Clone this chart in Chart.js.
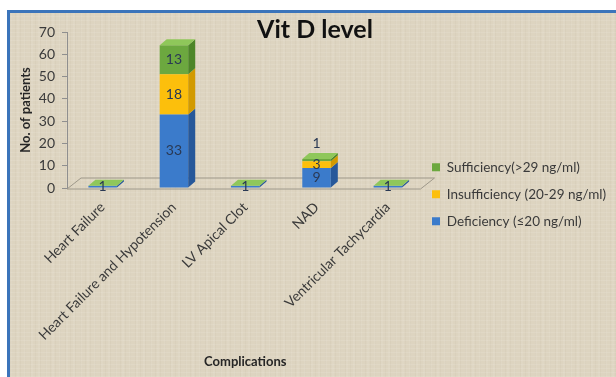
<!DOCTYPE html>
<html>
<head>
<meta charset="utf-8">
<script src="https://cdn.jsdelivr.net/npm/chart.js@4/dist/chart.umd.min.js"></script>
<style>
  html, body { margin: 0; padding: 0; background: #ffffff; }
  #wrap { position: relative; width: 616px; height: 377px; overflow: hidden; }
  #frame {
    position: absolute; left: 7px; top: 10px; right: 0; bottom: 0;
    border-top: 3px solid #3b74ba; border-left: 3px solid #3b74ba;
    background-color: #ddd4c0;
    background-image:
      repeating-linear-gradient(0deg, rgba(255,255,255,0.09) 0 1px, transparent 1px 4px),
      repeating-linear-gradient(90deg, rgba(120,100,70,0.04) 0 1px, transparent 1px 5px),
      repeating-linear-gradient(90deg, rgba(255,255,255,0.06) 0 2px, transparent 2px 7px);
  }
  canvas { position: absolute; left: 0; top: 0; }
</style>
</head>
<body>
<div id="wrap">
  <div id="frame"></div>
  <canvas id="c" width="616" height="377"></canvas>
</div>
<script>
// Complications by vitamin D status
const categories = ['Heart Failure', 'Heart Failure and Hypotension', 'LV Apical Clot', 'NAD', 'Ventricular Tachycardia'];
const deficiency = [1, 33, 1, 9, 1];
const insufficiency = [0, 18, 0, 3, 0];
const sufficiency = [0, 13, 0, 1, 0];
const seriesNames = ['Deficiency (\u226420 ng/ml)', 'Insufficiency (20-29 ng/ml)', 'Sufficiency(>29 ng/ml)'];
const yMin = 0, yMax = 70, yStep = 10;

// face colours: front, side, top
const frontColors = ['#3b7bcb', '#fcbf0c', '#6ca83f'];
const sideColors = ['#27589a', '#d29a00', '#4d8629'];
const topColors = ['#5d97de', '#ffd552', '#8fc75a'];

const BAR_DX = 7, BAR_DY = 6;       // bar depth
const FLOOR_DX = 14, FLOOR_DY = 11; // floor depth
const FONT = 'Lato, "Open Sans", "DejaVu Sans", sans-serif';

const depth3d = {
  id: 'depth3d',
  beforeDatasetsDraw(chart) {
    const ctx = chart.ctx, xs = chart.scales.x, ys = chart.scales.y;
    const y0 = ys.getPixelForValue(0) + 1;
    ctx.save();
    ctx.strokeStyle = '#9e988a';
    ctx.lineWidth = 1;
    ctx.beginPath();
    ctx.moveTo(xs.left, y0);
    ctx.lineTo(xs.right - 3, y0);
    ctx.lineTo(xs.right - 3 + FLOOR_DX, y0 - FLOOR_DY);
    ctx.lineTo(xs.left + FLOOR_DX, y0 - FLOOR_DY);
    ctx.closePath();
    ctx.stroke();
    ctx.restore();
  },
  afterDatasetsDraw(chart) {
    const ctx = chart.ctx;
    const n = chart.data.datasets.length;
    ctx.save();
    // side faces
    for (let d = 0; d < n; d++) {
      const meta = chart.getDatasetMeta(d);
      meta.data.forEach(el => {
        const r = el.x + el.width / 2;
        const top = Math.min(el.y, el.base), bot = Math.max(el.y, el.base);
        if (bot - top < 0.01) return;
        ctx.fillStyle = sideColors[d];
        ctx.beginPath();
        ctx.moveTo(r, bot);
        ctx.lineTo(r + BAR_DX, bot - BAR_DY);
        ctx.lineTo(r + BAR_DX, top - BAR_DY);
        ctx.lineTo(r, top);
        ctx.closePath();
        ctx.fill();
      });
    }
    // top face of each stack
    const last = chart.getDatasetMeta(n - 1);
    last.data.forEach(el => {
      const l = el.x - el.width / 2, r = el.x + el.width / 2;
      const top = Math.min(el.y, el.base);
      ctx.fillStyle = topColors[n - 1];
      ctx.beginPath();
      ctx.moveTo(l, top);
      ctx.lineTo(l + BAR_DX, top - BAR_DY);
      ctx.lineTo(r + BAR_DX, top - BAR_DY);
      ctx.lineTo(r, top);
      ctx.closePath();
      ctx.fill();
    });
    // value labels
    ctx.font = '14px ' + FONT;
    ctx.fillStyle = '#2a3954';
    ctx.textAlign = 'center';
    ctx.textBaseline = 'middle';
    for (let d = 0; d < n; d++) {
      const meta = chart.getDatasetMeta(d);
      const vals = chart.data.datasets[d].data;
      meta.data.forEach((el, i) => {
        const v = vals[i];
        if (!v) return;
        const total = chart.data.datasets.reduce((s, ds) => s + (ds.data[i] || 0), 0);
        const h = Math.abs(el.base - el.y);
        let cy = (el.y + el.base) / 2;
        if (h < 4 && total > v) cy = Math.min(el.y, el.base) - BAR_DY - 10;
        ctx.fillText(String(v), el.x, cy);
      });
    }
    ctx.restore();
  },
  beforeDraw(chart) {
    // title centred over the whole frame
    const tb = chart.titleBlock;
    tb.left = 14; tb.right = 616; tb.width = 602;
    // legend sits beside the floor, lower right
    const lg = chart.legend, ca = chart.chartArea;
    lg.left = ca.right - 5;
    lg.right = lg.left + 200;
    lg.top = ca.top + 115;
    lg.bottom = lg.top + 120;
    lg.width = 200; lg.height = 120;
  }
};

const datasets = [deficiency, insufficiency, sufficiency].map((data, i) => ({
  label: seriesNames[i],
  data: data,
  backgroundColor: frontColors[i],
  borderWidth: 0,
  barPercentage: 0.4,
  categoryPercentage: 1.0
}));

new Chart(document.getElementById('c'), {
  type: 'bar',
  data: { labels: categories, datasets: datasets },
  plugins: [depth3d],
  options: {
    responsive: false,
    devicePixelRatio: 1,
    animation: false,
    layout: { padding: { left: 8, right: 54, top: 0, bottom: 0 } },
    plugins: {
      tooltip: { enabled: false },
      title: {
        display: true,
        text: 'Vit D level',
        color: '#111111',
        font: { family: FONT, size: 25, weight: 'bold' },
        padding: { top: 15, bottom: -13 }
      },
      legend: {
        position: 'right',
        align: 'start',
        reverse: true,
        labels: {
          boxWidth: 8, boxHeight: 8,
          padding: 13.5,
          color: '#3a3a3a',
          font: { family: FONT, size: 13.5 }
        }
      }
    },
    scales: {
      x: {
        stacked: true,
        grid: { display: false, drawTicks: false },
        border: { display: false },
        ticks: {
          autoSkip: false, maxRotation: 45, minRotation: 45,
          padding: 11, color: '#3a3a3a',
          font: { family: FONT, size: 14 }
        },
        title: {
          display: true, text: 'Complications', color: '#262626',
          font: { family: FONT, size: 13, weight: 'bold' },
          padding: { top: 0, bottom: 7 }
        },
        afterFit(scale) { scale.height = 189; }
      },
      y: {
        stacked: true,
        min: yMin, max: yMax,
        ticks: { stepSize: yStep, padding: 7, color: '#3a3a3a', font: { family: FONT, size: 14 } },
        grid: { display: true, drawOnChartArea: false, drawTicks: true, tickLength: 5, color: '#8f8f8f' },
        border: { display: true, color: '#8f8f8f' },
        title: {
          display: true, text: 'No. of patients', color: '#262626',
          font: { family: FONT, size: 13, weight: 'bold' },
          padding: { top: 10, bottom: 0 }
        },
        afterFit(scale) { scale.width = 59; }
      }
    }
  }
});
</script>
</body>
</html>
